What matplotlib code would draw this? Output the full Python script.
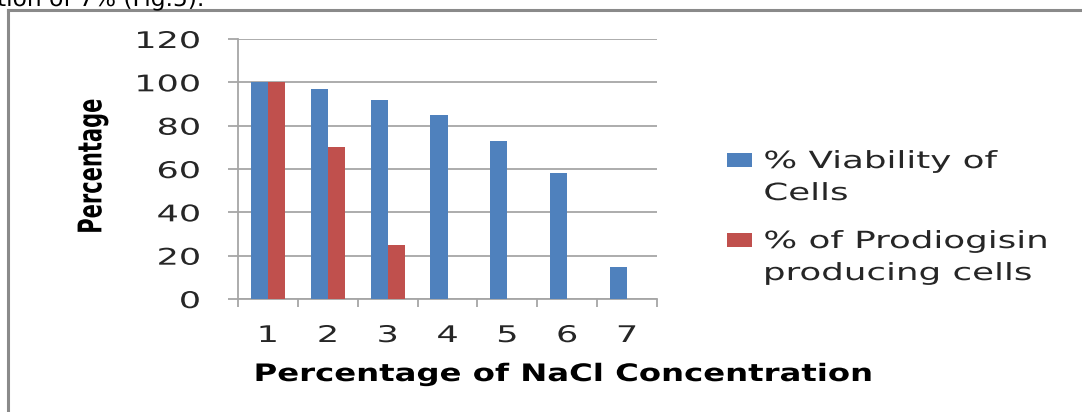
import matplotlib
matplotlib.use("Agg")
import matplotlib.pyplot as plt
import numpy as np
from matplotlib.patheffects import AbstractPathEffect
from matplotlib.transforms import Affine2D
from matplotlib.patches import Rectangle
from matplotlib.lines import Line2D

# ---- data -------------------------------------------------------------
concentrations = ["1", "2", "3", "4", "5", "6", "7"]
viability = [100, 97, 92, 85, 73, 58, 15]
prodigiosin = [100, 70, 25, 0, 0, 0, 0]
series_labels = ["% Viability of\nCells", "% of Prodiogisin\nproducing cells"]
y_ticks = [0, 20, 40, 60, 80, 100, 120]

BLUE = "#4F81BD"
RED = "#C0504D"
GRID = "#A6A6A6"
FRAME = "#8A8A8A"
TXT = "#262626"

W, H = 1082, 412


class Stretch(AbstractPathEffect):
    """Draw text outlines scaled by (sx, sy) about a point of their ink box."""

    def __init__(self, sx=1.0, sy=1.0, fx=0.5, fy=0.5):
        super().__init__()
        self.sx, self.sy, self.fx, self.fy = sx, sy, fx, fy

    def draw_path(self, renderer, gc, tpath, affine, rgbFace=None):
        ext = tpath.get_extents(affine)
        cx = ext.x0 + self.fx * ext.width
        cy = ext.y0 + self.fy * ext.height
        extra = (Affine2D().translate(-cx, -cy)
                 .scale(self.sx, self.sy).translate(cx, cy))
        renderer.draw_path(gc, tpath, affine + extra, rgbFace)


def fx(px):
    return px / W


def fy(py):
    return 1 - py / H


fig = plt.figure(figsize=(W / 100, H / 100), dpi=100)
fig.patch.set_facecolor("white")

# page frame around the chart
fig.add_artist(Line2D([fx(8), 1.0], [fy(10), fy(10)], color=FRAME, lw=2.2,
                      transform=fig.transFigure))
fig.add_artist(Line2D([fx(8), fx(8)], [fy(10), 0.0], color=FRAME, lw=2.2,
                      transform=fig.transFigure))

# running text of the page above the chart
top = fig.text(fx(-3), fy(6), "tion of 7% (Fig.5).", fontsize=16,
               color="black", ha="left", va="baseline")
top.set_path_effects([Stretch(sx=1.05, fx=0.0)])

ax = fig.add_axes([fx(238), fy(299), (657 - 238) / W, (299 - 39) / H])

x = np.arange(1, len(concentrations) + 1)
bw = 1 / 3.5
ax.bar(x - bw / 2, viability, bw, color=BLUE, zorder=3)
ax.bar(x + bw / 2, prodigiosin, bw, color=RED, zorder=3)

ax.set_xlim(0.5, len(concentrations) + 0.5)
ax.set_ylim(0, 120)

ax.set_yticks(y_ticks)
ax.set_yticklabels([str(v) for v in y_ticks])
ax.set_xticks(x)
ax.set_xticklabels(concentrations)
ax.set_xticks(np.arange(0.5, len(concentrations) + 1), minor=True)

ax.yaxis.grid(True, color=GRID, lw=1.3, zorder=0)
ax.set_axisbelow(True)
for s in ("top", "right"):
    ax.spines[s].set_visible(False)
for s in ("left", "bottom"):
    ax.spines[s].set_color(GRID)
    ax.spines[s].set_linewidth(1.3)

ax.tick_params(axis="y", length=7.2, width=1.3, color=GRID, pad=20,
               labelsize=16.5, labelcolor=TXT)
ax.tick_params(axis="x", which="major", length=0, pad=18,
               labelsize=16.5, labelcolor=TXT)
ax.tick_params(axis="x", which="minor", length=6, width=1.3, color=GRID)

for lbl in ax.get_yticklabels():
    lbl.set_path_effects([Stretch(sx=1.53, fx=1.0)])
for lbl in ax.get_xticklabels():
    lbl.set_path_effects([Stretch(sx=1.53, fx=0.5)])

# axis titles
ax.set_xlabel("Percentage of NaCl Concentration", fontsize=17.3,
              fontweight="bold", color="black")
ax.xaxis.set_label_coords((563 - 238) / (657 - 238), -(381 - 299) / (299 - 39))
ax.xaxis.label.set_va("baseline")
ax.xaxis.label.set_path_effects([Stretch(sx=1.345, fx=0.5)])

ylab = fig.text(fx(99), fy(166), "Percentage", fontsize=16.8,
                fontweight="bold", color="black", rotation=90,
                rotation_mode="anchor", ha="center", va="baseline")
ylab.set_path_effects([Stretch(sx=1.4, sy=0.9, fx=0.5, fy=0.5)])

# legend
legend_rows = [(BLUE, series_labels[0], 160), (RED, series_labels[1], 240)]
for color, label, yc in legend_rows:
    fig.add_artist(Rectangle((fx(727), fy(yc + 7)), 25 / W, 14 / H,
                             transform=fig.transFigure, facecolor=color,
                             edgecolor="none"))
    for i, line in enumerate(label.split("\n")):
        t = fig.text(fx(764), fy(yc + 8 + 32 * i), line, fontsize=17,
                     color=TXT, ha="left", va="baseline")
        t.set_path_effects([Stretch(sx=1.51, fx=0.0)])

fig.savefig("out.png", dpi=100, facecolor="white")
